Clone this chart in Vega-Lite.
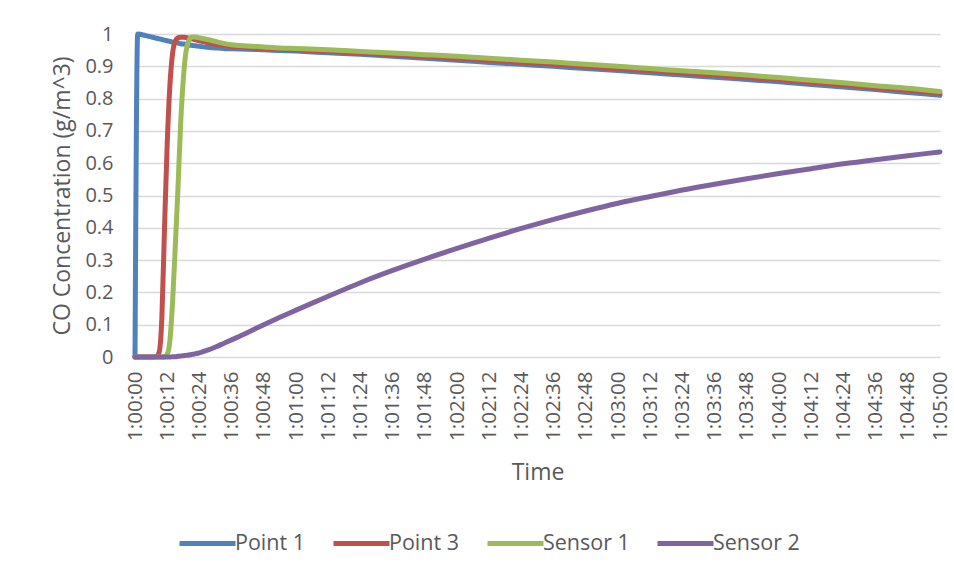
{
  "$schema": "https://vega.github.io/schema/vega-lite/v6.json",
  "width": 805,
  "height": 323,
  "autosize": {"type": "none"},
  "padding": {"left": 135, "top": 34, "right": 14, "bottom": 221},
  "background": "white",
  "config": {
    "view": {"stroke": null},
    "font": "Open Sans"
  },
  "data": {
    "values": [
      {"t": 0, "Point 1": 0, "Point 3": 0, "Sensor 1": 0, "Sensor 2": 0},
      {"t": 1, "Point 1": 1, "Point 3": 0, "Sensor 1": 0, "Sensor 2": 0},
      {"t": 2, "Point 1": 0.999, "Point 3": 0, "Sensor 1": 0, "Sensor 2": 0},
      {"t": 3, "Point 1": 0.997, "Point 3": 0, "Sensor 1": 0, "Sensor 2": 0},
      {"t": 4, "Point 1": 0.995, "Point 3": 0, "Sensor 1": 0, "Sensor 2": 0},
      {"t": 5, "Point 1": 0.993, "Point 3": 0, "Sensor 1": 0, "Sensor 2": 0},
      {"t": 6, "Point 1": 0.991, "Point 3": 0, "Sensor 1": 0, "Sensor 2": 0},
      {"t": 7, "Point 1": 0.989, "Point 3": 0, "Sensor 1": 0, "Sensor 2": 0},
      {"t": 8, "Point 1": 0.987, "Point 3": 0.002, "Sensor 1": 0, "Sensor 2": 0},
      {"t": 9, "Point 1": 0.985, "Point 3": 0.015, "Sensor 1": 0, "Sensor 2": 0},
      {"t": 10, "Point 1": 0.983, "Point 3": 0.12, "Sensor 1": 0, "Sensor 2": 0},
      {"t": 11, "Point 1": 0.981, "Point 3": 0.4, "Sensor 1": 0, "Sensor 2": 0},
      {"t": 12, "Point 1": 0.979, "Point 3": 0.66, "Sensor 1": 0.008, "Sensor 2": 0},
      {"t": 13, "Point 1": 0.977, "Point 3": 0.84, "Sensor 1": 0.05, "Sensor 2": 0},
      {"t": 14, "Point 1": 0.975, "Point 3": 0.94, "Sensor 1": 0.17, "Sensor 2": 0.001},
      {"t": 15, "Point 1": 0.973, "Point 3": 0.978, "Sensor 1": 0.34, "Sensor 2": 0.001},
      {"t": 16, "Point 1": 0.972, "Point 3": 0.988, "Sensor 1": 0.52, "Sensor 2": 0.002},
      {"t": 17, "Point 1": 0.97, "Point 3": 0.99, "Sensor 1": 0.72, "Sensor 2": 0.003},
      {"t": 18, "Point 1": 0.969, "Point 3": 0.99, "Sensor 1": 0.86, "Sensor 2": 0.004},
      {"t": 19, "Point 1": 0.968, "Point 3": 0.989, "Sensor 1": 0.945, "Sensor 2": 0.005},
      {"t": 20, "Point 1": 0.966, "Point 3": 0.987, "Sensor 1": 0.978, "Sensor 2": 0.006},
      {"t": 21, "Point 1": 0.965, "Point 3": 0.985, "Sensor 1": 0.99, "Sensor 2": 0.008},
      {"t": 22, "Point 1": 0.964, "Point 3": 0.983, "Sensor 1": 0.991, "Sensor 2": 0.009},
      {"t": 23, "Point 1": 0.963, "Point 3": 0.981, "Sensor 1": 0.99, "Sensor 2": 0.011},
      {"t": 24, "Point 1": 0.962, "Point 3": 0.979, "Sensor 1": 0.988, "Sensor 2": 0.013},
      {"t": 27, "Point 1": 0.959, "Point 3": 0.973, "Sensor 1": 0.983, "Sensor 2": 0.021},
      {"t": 30, "Point 1": 0.957, "Point 3": 0.968, "Sensor 1": 0.977, "Sensor 2": 0.031},
      {"t": 33, "Point 1": 0.955, "Point 3": 0.964, "Sensor 1": 0.971, "Sensor 2": 0.042},
      {"t": 36, "Point 1": 0.954, "Point 3": 0.961, "Sensor 1": 0.967, "Sensor 2": 0.053},
      {"t": 42, "Point 1": 0.953, "Point 3": 0.958, "Sensor 1": 0.963, "Sensor 2": 0.076},
      {"t": 48, "Point 1": 0.951, "Point 3": 0.955, "Sensor 1": 0.96, "Sensor 2": 0.1},
      {"t": 54, "Point 1": 0.949, "Point 3": 0.953, "Sensor 1": 0.957, "Sensor 2": 0.123},
      {"t": 60, "Point 1": 0.947, "Point 3": 0.951, "Sensor 1": 0.955, "Sensor 2": 0.145},
      {"t": 72, "Point 1": 0.942, "Point 3": 0.946, "Sensor 1": 0.951, "Sensor 2": 0.188},
      {"t": 84, "Point 1": 0.937, "Point 3": 0.941, "Sensor 1": 0.946, "Sensor 2": 0.23},
      {"t": 96, "Point 1": 0.931, "Point 3": 0.936, "Sensor 1": 0.941, "Sensor 2": 0.268},
      {"t": 108, "Point 1": 0.925, "Point 3": 0.93, "Sensor 1": 0.936, "Sensor 2": 0.303},
      {"t": 120, "Point 1": 0.919, "Point 3": 0.924, "Sensor 1": 0.931, "Sensor 2": 0.336},
      {"t": 132, "Point 1": 0.912, "Point 3": 0.918, "Sensor 1": 0.925, "Sensor 2": 0.368},
      {"t": 144, "Point 1": 0.906, "Point 3": 0.912, "Sensor 1": 0.919, "Sensor 2": 0.398},
      {"t": 156, "Point 1": 0.9, "Point 3": 0.906, "Sensor 1": 0.913, "Sensor 2": 0.426},
      {"t": 168, "Point 1": 0.893, "Point 3": 0.899, "Sensor 1": 0.906, "Sensor 2": 0.452},
      {"t": 180, "Point 1": 0.887, "Point 3": 0.892, "Sensor 1": 0.9, "Sensor 2": 0.476},
      {"t": 192, "Point 1": 0.88, "Point 3": 0.886, "Sensor 1": 0.893, "Sensor 2": 0.497},
      {"t": 204, "Point 1": 0.873, "Point 3": 0.879, "Sensor 1": 0.886, "Sensor 2": 0.517},
      {"t": 216, "Point 1": 0.866, "Point 3": 0.872, "Sensor 1": 0.88, "Sensor 2": 0.535},
      {"t": 228, "Point 1": 0.859, "Point 3": 0.865, "Sensor 1": 0.873, "Sensor 2": 0.552},
      {"t": 240, "Point 1": 0.852, "Point 3": 0.858, "Sensor 1": 0.865, "Sensor 2": 0.568},
      {"t": 252, "Point 1": 0.844, "Point 3": 0.85, "Sensor 1": 0.857, "Sensor 2": 0.583},
      {"t": 264, "Point 1": 0.836, "Point 3": 0.842, "Sensor 1": 0.849, "Sensor 2": 0.598},
      {"t": 276, "Point 1": 0.828, "Point 3": 0.833, "Sensor 1": 0.84, "Sensor 2": 0.611},
      {"t": 288, "Point 1": 0.819, "Point 3": 0.825, "Sensor 1": 0.832, "Sensor 2": 0.623},
      {"t": 300, "Point 1": 0.81, "Point 3": 0.816, "Sensor 1": 0.822, "Sensor 2": 0.635}
    ]
  },
  "transform": [
    {"fold": ["Point 1", "Point 3", "Sensor 1", "Sensor 2"], "as": ["series", "conc"]}
  ],
  "mark": {
    "type": "line",
    "interpolate": "monotone",
    "strokeWidth": 5,
    "strokeCap": "round",
    "strokeJoin": "round"
  },
  "encoding": {
    "x": {
      "field": "t",
      "type": "quantitative",
      "scale": {"domain": [0, 300], "nice": false, "zero": false},
      "axis": {
        "title": "Time",
        "values": [0, 12, 24, 36, 48, 60, 72, 84, 96, 108, 120, 132, 144, 156, 168, 180, 192, 204, 216, 228, 240, 252, 264, 276, 288, 300],
        "labelExpr": "'1:0' + floor(datum.value / 60) + ':' + (datum.value % 60 < 10 ? '0' : '') + (datum.value % 60)",
        "labelAngle": 270,
        "labelFont": "Open Sans",
        "labelFontSize": 20.5,
        "labelColor": "#595959",
        "labelPadding": 14,
        "labelFlush": false,
        "labelOverlap": false,
        "grid": false,
        "ticks": false,
        "domain": false,
        "titleFont": "Open Sans",
        "titleFontSize": 23,
        "titleFontWeight": "normal",
        "titleColor": "#595959",
        "titlePadding": 21
      }
    },
    "y": {
      "field": "conc",
      "type": "quantitative",
      "scale": {"domain": [0, 1], "nice": false},
      "axis": {
        "title": "CO Concentration (g/m^3)",
        "values": [0, 0.1, 0.2, 0.3, 0.4, 0.5, 0.6, 0.7, 0.8, 0.9, 1],
        "format": "~g",
        "labelFont": "Open Sans",
        "labelFontSize": 20,
        "labelColor": "#595959",
        "labelPadding": 22,
        "grid": true,
        "gridColor": "#d9d9d9",
        "gridWidth": 1.5,
        "ticks": false,
        "domain": false,
        "titleFont": "Open Sans",
        "titleFontSize": 23,
        "titleFontWeight": "normal",
        "titleColor": "#595959",
        "titlePadding": 10
      }
    },
    "color": {
      "field": "series",
      "type": "nominal",
      "scale": {
        "domain": ["Point 1", "Point 3", "Sensor 1", "Sensor 2"],
        "range": ["#4f81bd", "#c0504d", "#9bbb59", "#8064a2"]
      },
      "legend": {
        "title": null,
        "orient": "none",
        "direction": "horizontal",
        "legendX": 42,
        "legendY": 479,
        "symbolType": "stroke",
        "symbolSize": 3136,
        "symbolStrokeWidth": 5,
        "labelFont": "Open Sans",
        "labelFontSize": 21.5,
        "labelColor": "#595959",
        "labelOffset": -3,
        "columnPadding": 17,
        "padding": 0
      }
    }
  }
}
